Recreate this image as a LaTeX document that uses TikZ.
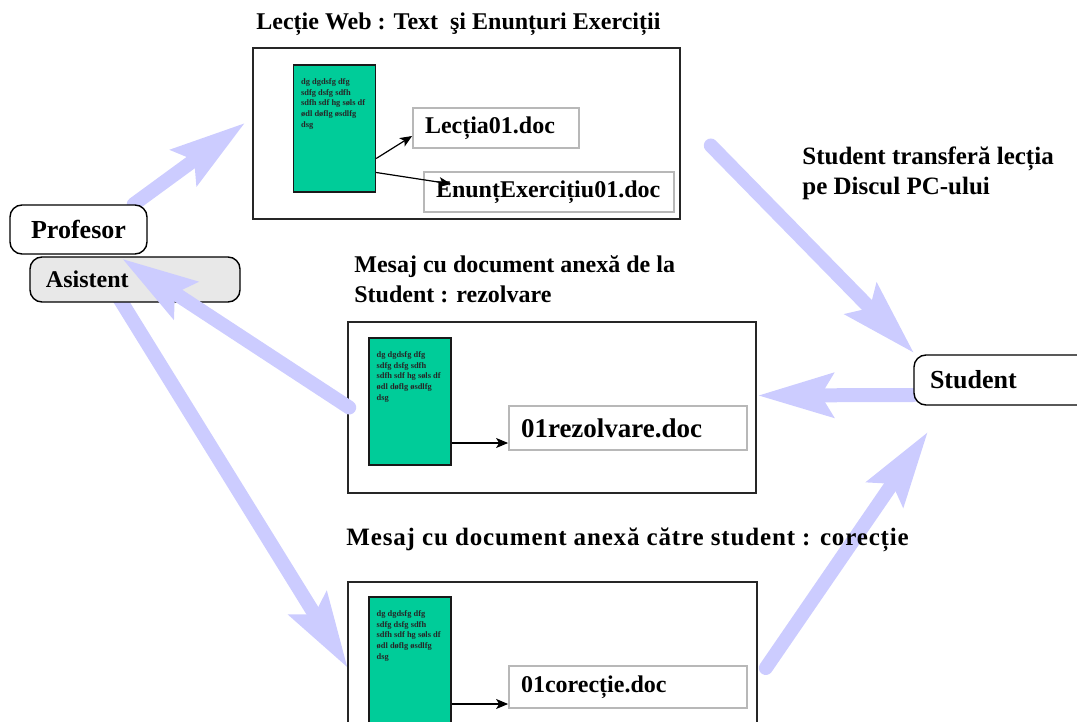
\documentclass[tikz,border=0pt]{standalone}
\usepackage{fontspec}
\setmainfont{Liberation Serif}
\usetikzlibrary{arrows.meta, backgrounds}
\definecolor{lav}{RGB}{204,204,255}
\definecolor{docgreen}{RGB}{0,204,153}

\begin{document}
\begin{tikzpicture}[x=0.5pt, y=-0.5pt,
    frame/.style={draw=black!85, line width=0.8pt, fill=white, inner sep=0pt},
    doc/.style={draw=black!90, line width=0.7pt, fill=docgreen, minimum width=41pt, inner sep=0pt},
    scribble/.style={font=\bfseries\fontsize{4.2}{5.3}\selectfont, align=left, anchor=north west, inner sep=0pt, text=black!85},
    file/.style={draw=black!28, line width=0.9pt, fill=white, align=left, inner xsep=6pt, font=\bfseries\fontsize{#1}{14}\selectfont},
    actor/.style={draw, rounded corners=6pt, line width=0.7pt, fill=white, inner xsep=8pt, font=\bfseries\fontsize{#1}{14}\selectfont},
    caption/.style={font=\bfseries\fontsize{#1}{15}\selectfont, anchor=west, align=left, inner sep=0pt},
    flow/.style={draw=lav, line width=7pt, line cap=round, -{Stealth[length=38pt, width=23pt, inset=7pt, line width=0pt]}},
    link/.style={draw=black, line width=0.6pt, -{Stealth[length=6pt, width=5pt, inset=1.5pt]}},
]
\useasboundingbox (0,0) rectangle (1077,722);

% lesson on the web
\node[caption=12] (t1) at (256,24) {Lecție Web : Text~ şi Enunțuri Exerciții};
\node[frame, minimum width=213.5pt, minimum height=85.5pt] (les) at (466.5,133.5) {};
\node[doc, minimum height=63.5pt] (doc1) at (334.5,128.5) {};
\node[scribble] at ([xshift=4pt,yshift=-7pt]doc1.north west) {dg dgdsfg dfg\\sdfg dsfg sdfh\\sdfh sdf hg søls df\\ødl døflg øsdlfg\\dsg};
\node[file=12, text width=71pt, minimum height=20pt] (lec) at (496,128) {Lecția01.doc};
\node[file=12, text width=113pt, minimum height=20pt] (enu) at (549,192) {EnunțExercițiu01.doc};
\draw[link] ([yshift=-15pt]doc1.east) -- ([yshift=-4pt]lec.west);
\draw[link] ([yshift=-22pt]doc1.east) -- ([xshift=14pt,yshift=4pt]enu.west);

% actors
\node[actor=13, minimum width=68.5pt, minimum height=24.5pt] (prof) at (78.5,229.5) {Profesor};
\node[actor=12, fill=black!9, text width=89pt, minimum height=22.5pt] (asis) at (135,279.5) {Asistent};
\node[actor=13, text width=72pt, minimum height=25pt] (stud) at (1002,380) {Student};
\node[caption=12.5] (t4) at (802,173) {Student transferă lecția\\pe Discul PC-ului};

% message from student
\node[caption=12] (t2) at (354,279) {Mesaj cu document anexă de la\\Student : rezolvare};
\node[frame, minimum width=204pt, minimum height=85.5pt] (rez) at (552,407.5) {};
\node[doc, minimum height=63.5pt] (doc2) at (410,401.5) {};
\node[scribble] at ([xshift=4pt,yshift=-7pt]doc2.north west) {dg dgdsfg dfg\\sdfg dsfg sdfh\\sdfh sdf hg søls df\\ødl døflg øsdlfg\\dsg};
\node[file=13.5, text width=107pt, minimum height=22pt] (rzf) at (628,428) {01rezolvare.doc};
\draw[link] ([yshift=-20.75pt]doc2.east) -- ([yshift=-7.5pt]rzf.west);

% message to student
\node[caption=12, font=\bfseries\fontsize{12.5}{15}\selectfont\addfontfeature{LetterSpace=3.4}] (t3) at (346,540) {Mesaj cu document anexă către student : corecție};
\node[frame, minimum width=204.5pt, minimum height=94pt] (cor) at (552.5,676) {};
\node[doc, minimum height=70pt] (doc3) at (410,667) {};
\node[scribble] at ([xshift=4pt,yshift=-7pt]doc3.north west) {dg dgdsfg dfg\\sdfg dsfg sdfh\\sdfh sdf hg søls df\\ødl døflg øsdlfg\\dsg};
\node[file=12, text width=107pt, minimum height=21pt] (crf) at (628,687) {01corecție.doc};
\draw[link] ([yshift=-18.5pt]doc3.east) -- ([yshift=-8.5pt]crf.west);

% big transfer arrows
\begin{scope}[on background layer]
\draw[flow] ([xshift=-7pt]prof.north east) -- ([xshift=-4pt,yshift=5pt]les.west);
\draw[flow] ([xshift=-9pt,yshift=4pt]asis.south) -- ([yshift=4.5pt]cor.west);
\draw[flow] ([yshift=-7.5pt]stud.west) -- ([xshift=1pt,yshift=6pt]rez.east);
\draw[flow] ([xshift=4pt,yshift=4pt]cor.east) -- ([xshift=7pt,yshift=-13.5pt]stud.south west);
\end{scope}
\draw[flow] ([xshift=15pt,yshift=-6pt]les.east) -- ([yshift=1pt]stud.north west);
\draw[flow] ([xshift=1pt]rez.west) -- ([xshift=-6pt,yshift=-1.5pt]asis.north);

\end{tikzpicture}
\end{document}
